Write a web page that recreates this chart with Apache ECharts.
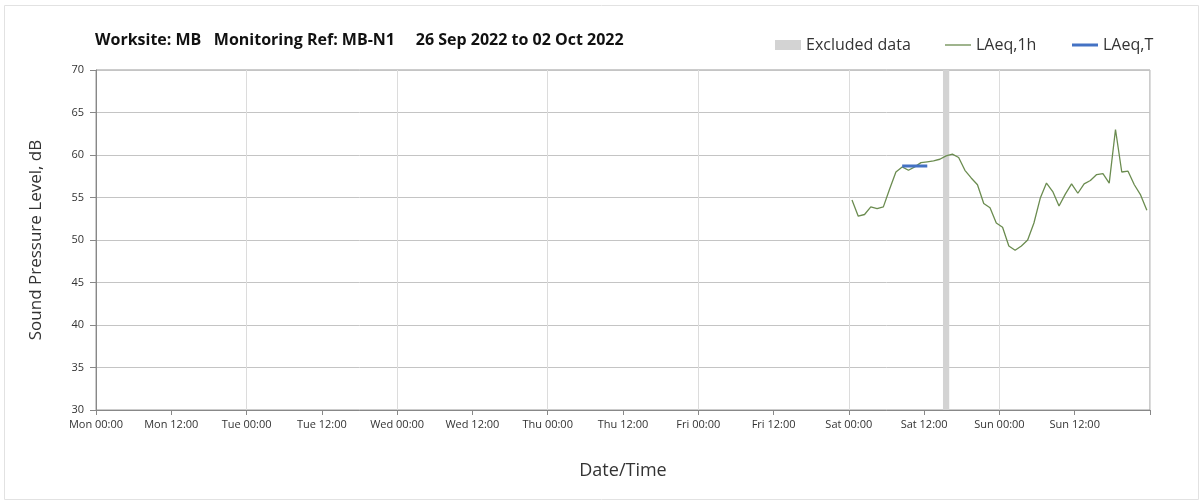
<!DOCTYPE html>
<html>
<head>
<meta charset="utf-8">
<script src="https://cdn.jsdelivr.net/npm/echarts@6/dist/echarts.min.js"></script>
<style>
html,body{margin:0;padding:0;background:#fff;}
#chart{width:1203px;height:504px;}
</style>
</head>
<body>
<div id="chart"></div>
<script>
// ---- data ----
const titleText = 'Worksite: MB   Monitoring Ref: MB-N1     26 Sep 2022 to 02 Oct 2022';
const xTickLabels = ['Mon 00:00','Mon 12:00','Tue 00:00','Tue 12:00','Wed 00:00','Wed 12:00','Thu 00:00','Thu 12:00','Fri 00:00','Fri 12:00','Sat 00:00','Sat 12:00','Sun 00:00','Sun 12:00'];
const yTicks = [30,35,40,45,50,55,60,65,70];
// LAeq,1h hourly values, first at Sat 00:30 (hours since Mon 00:00)
const laeq1hStartHour = 120.5;
const laeq1h = [54.7, 52.8, 53.0, 53.9, 53.7, 53.9, 56.0, 58.0, 58.6, 58.2, 58.6, 59.1,
                59.2, 59.3, 59.5, 59.9, 60.1, 59.7, 58.2, 57.3, 56.5, 54.3, 53.8, 52.0,
                51.5, 49.3, 48.8, 49.3, 50.0, 52.0, 54.9, 56.7, 55.7, 54.0, 55.4, 56.6,
                55.5, 56.6, 57.0, 57.7, 57.8, 56.7, 63.0, 58.0, 58.1, 56.5, 55.3, 53.5];
// LAeq,T period (hours since Mon 00:00) and value
const laeqTHours = [128.5, 132.5];
const laeqTValue = 58.7;
// Excluded data period (hours since Mon 00:00)
const excludedHours = [135, 136];

const laeq1hData = laeq1h.map((v, i) => [laeq1hStartHour + i, v]);
const laeqTData = laeqTHours.map(h => [h, laeqTValue]);

const FONT = '"Open Sans", Lato, sans-serif';
const legendText = {fontFamily: FONT, fontSize: 16, color: '#333'};
const chart = echarts.init(document.getElementById('chart'), null, {renderer: 'canvas'});
chart.setOption({
  backgroundColor: '#fff',
  animation: false,
  title: {
    text: titleText,
    left: 90, top: 27,
    textStyle: {fontFamily: FONT, fontSize: 16, fontWeight: 'bold', color: '#111'}
  },
  legend: [{
    left: 770, top: 32, itemWidth: 26, itemHeight: 10, itemGap: 5,
    textStyle: legendText,
    data: [{name: 'Excluded data', icon: 'rect'}]
  }, {
    left: 940, top: 32, itemWidth: 26, itemHeight: 1.3,
    textStyle: legendText,
    data: [{name: 'LAeq,1h', icon: 'rect'}]
  }, {
    left: 1067, top: 32, itemWidth: 26, itemHeight: 3,
    textStyle: legendText,
    data: [{name: 'LAeq,T', icon: 'rect'}]
  }],
  grid: {left: 96, right: 53, top: 70, bottom: 94, show: true, borderColor: '#999', borderWidth: 1},
  xAxis: [{
    type: 'value', min: 0, max: 168, interval: 12,
    name: 'Date/Time', nameLocation: 'middle', nameGap: 52,
    nameTextStyle: {fontFamily: FONT, fontSize: 18, color: '#333'},
    axisLine: {show: true, lineStyle: {color: '#888'}},
    axisTick: {show: true, length: 5, lineStyle: {color: '#888'}},
    axisLabel: {fontFamily: FONT, fontSize: 11, color: '#333', margin: 9,
      formatter: v => xTickLabels[Math.round(v / 12)] || ''},
    splitLine: {show: false}
  }, {
    type: 'value', min: 0, max: 168, interval: 24, position: 'bottom',
    axisLine: {show: false}, axisTick: {show: false}, axisLabel: {show: false},
    splitLine: {show: true, lineStyle: {color: '#dcdcdc', width: 1}}
  }],
  yAxis: {
    type: 'value', min: 30, max: 70, interval: 5,
    name: 'Sound Pressure Level, dB', nameLocation: 'middle', nameGap: 51,
    nameTextStyle: {fontFamily: FONT, fontSize: 17, color: '#333'},
    axisLine: {show: true, lineStyle: {color: '#888'}},
    axisTick: {show: true, length: 6, lineStyle: {color: '#888'}},
    axisLabel: {fontFamily: FONT, fontSize: 11, color: '#333', margin: 12,
      formatter: v => yTicks.includes(v) ? String(v) : ''},
    splitLine: {show: true, lineStyle: {color: '#c4c4c4', width: 1}}
  },
  series: [
    {
      name: 'Excluded data', type: 'line', data: [], xAxisIndex: 0,
      itemStyle: {color: '#d3d3d3'}, lineStyle: {color: '#d3d3d3'},
      markArea: {silent: true, itemStyle: {color: '#d3d3d3'},
        data: [[{xAxis: excludedHours[0]}, {xAxis: excludedHours[1]}]]}
    },
    {
      name: 'LAeq,1h', type: 'line', data: laeq1hData, xAxisIndex: 0,
      symbol: 'none', z: 3,
      itemStyle: {color: '#6b8c50'}, lineStyle: {color: '#6b8c50', width: 1.3}
    },
    {
      name: 'LAeq,T', type: 'line', data: laeqTData, xAxisIndex: 0,
      symbol: 'none', z: 4,
      itemStyle: {color: '#4472c4'}, lineStyle: {color: '#4472c4', width: 3}
    }
  ],
  graphic: [{
    type: 'rect', silent: true, z: -1,
    shape: {x: 4.5, y: 5.5, width: 1194, height: 494},
    style: {fill: null, stroke: '#e2e2e2', lineWidth: 1}
  }]
});
</script>
</body>
</html>
